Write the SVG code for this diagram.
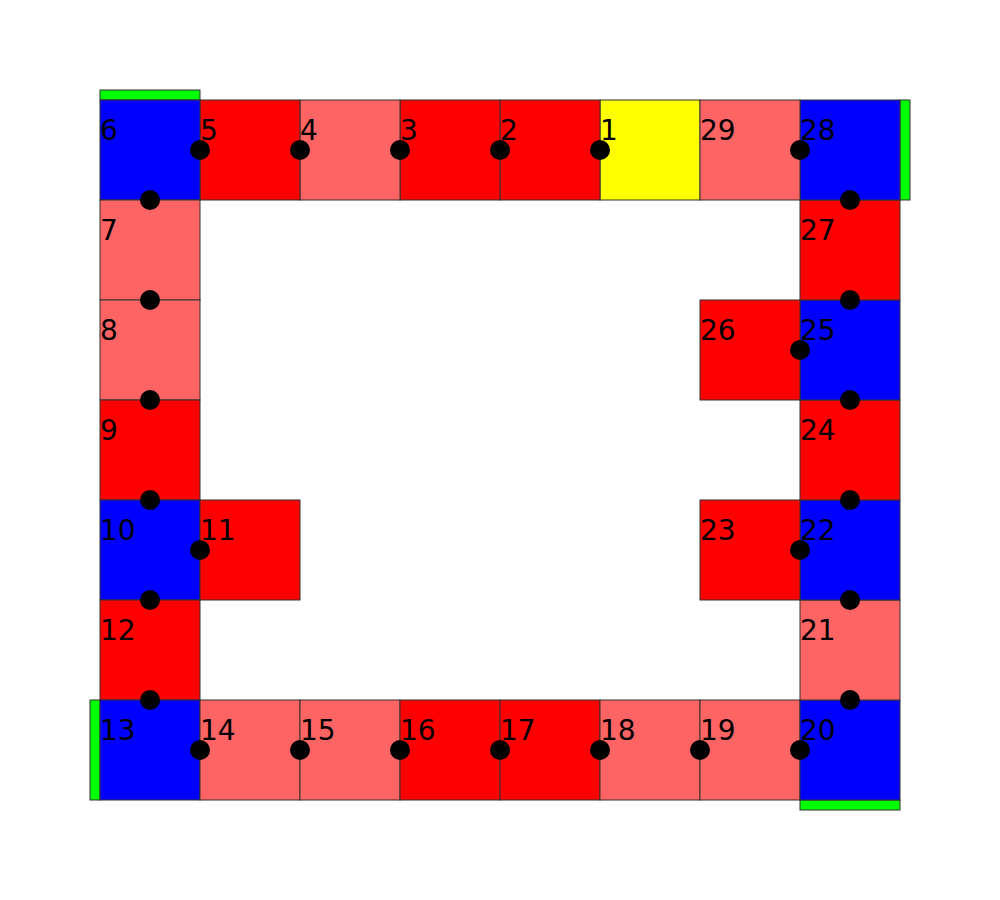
<svg xmlns="http://www.w3.org/2000/svg" width="1000" height="900" viewBox="0 0 1000 900">
<style>
rect{stroke:#333;stroke-width:1}
.b{fill:#0000ff}.r{fill:#ff0000}.l{fill:#ff6464}.y{fill:#ffff00}.g{fill:#00ff00}
text{font-family:"DejaVu Sans",sans-serif;font-size:28px;fill:#000}
circle{fill:#000}
</style>
<rect width="1000" height="900" fill="#fff" style="stroke:none"/>
<g id="bars">
<rect class="g" x="100" y="90" width="100" height="10"/>
<rect class="g" x="900" y="100" width="10" height="100"/>
<rect class="g" x="90" y="700" width="10" height="100"/>
<rect class="g" x="800" y="800" width="100" height="10"/>
</g>
<g id="n1"><rect class="y" x="600" y="100" width="100" height="100"/><text x="600" y="140">1</text></g>
<g id="n2"><rect class="r" x="500" y="100" width="100" height="100"/><text x="500" y="140">2</text></g>
<g id="n3"><rect class="r" x="400" y="100" width="100" height="100"/><text x="400" y="140">3</text></g>
<g id="n4"><rect class="l" x="300" y="100" width="100" height="100"/><text x="300" y="140">4</text></g>
<g id="n5"><rect class="r" x="200" y="100" width="100" height="100"/><text x="200" y="140">5</text></g>
<g id="n6"><rect class="b" x="100" y="100" width="100" height="100"/><text x="100" y="140">6</text></g>
<g id="n7"><rect class="l" x="100" y="200" width="100" height="100"/><text x="100" y="240">7</text></g>
<g id="n8"><rect class="l" x="100" y="300" width="100" height="100"/><text x="100" y="340">8</text></g>
<g id="n9"><rect class="r" x="100" y="400" width="100" height="100"/><text x="100" y="440">9</text></g>
<g id="n10"><rect class="b" x="100" y="500" width="100" height="100"/><text x="100" y="540">10</text></g>
<g id="n11"><rect class="r" x="200" y="500" width="100" height="100"/><text x="200" y="540">11</text></g>
<g id="n12"><rect class="r" x="100" y="600" width="100" height="100"/><text x="100" y="640">12</text></g>
<g id="n13"><rect class="b" x="100" y="700" width="100" height="100"/><text x="100" y="740">13</text></g>
<g id="n14"><rect class="l" x="200" y="700" width="100" height="100"/><text x="200" y="740">14</text></g>
<g id="n15"><rect class="l" x="300" y="700" width="100" height="100"/><text x="300" y="740">15</text></g>
<g id="n16"><rect class="r" x="400" y="700" width="100" height="100"/><text x="400" y="740">16</text></g>
<g id="n17"><rect class="r" x="500" y="700" width="100" height="100"/><text x="500" y="740">17</text></g>
<g id="n18"><rect class="l" x="600" y="700" width="100" height="100"/><text x="600" y="740">18</text></g>
<g id="n19"><rect class="l" x="700" y="700" width="100" height="100"/><text x="700" y="740">19</text></g>
<g id="n20"><rect class="b" x="800" y="700" width="100" height="100"/><text x="800" y="740">20</text></g>
<g id="n21"><rect class="l" x="800" y="600" width="100" height="100"/><text x="800" y="640">21</text></g>
<g id="n22"><rect class="b" x="800" y="500" width="100" height="100"/><text x="800" y="540">22</text></g>
<g id="n23"><rect class="r" x="700" y="500" width="100" height="100"/><text x="700" y="540">23</text></g>
<g id="n24"><rect class="r" x="800" y="400" width="100" height="100"/><text x="800" y="440">24</text></g>
<g id="n25"><rect class="b" x="800" y="300" width="100" height="100"/><text x="800" y="340">25</text></g>
<g id="n26"><rect class="r" x="700" y="300" width="100" height="100"/><text x="700" y="340">26</text></g>
<g id="n27"><rect class="r" x="800" y="200" width="100" height="100"/><text x="800" y="240">27</text></g>
<g id="n28"><rect class="b" x="800" y="100" width="100" height="100"/><text x="800" y="140">28</text></g>
<g id="n29"><rect class="l" x="700" y="100" width="100" height="100"/><text x="700" y="140">29</text></g>
<g id="connectors">
<circle cx="200" cy="150" r="10"/><circle cx="300" cy="150" r="10"/><circle cx="400" cy="150" r="10"/><circle cx="500" cy="150" r="10"/><circle cx="600" cy="150" r="10"/><circle cx="800" cy="150" r="10"/>
<circle cx="150" cy="200" r="10"/><circle cx="150" cy="300" r="10"/><circle cx="150" cy="400" r="10"/><circle cx="150" cy="500" r="10"/><circle cx="200" cy="550" r="10"/><circle cx="150" cy="600" r="10"/><circle cx="150" cy="700" r="10"/>
<circle cx="200" cy="750" r="10"/><circle cx="300" cy="750" r="10"/><circle cx="400" cy="750" r="10"/><circle cx="500" cy="750" r="10"/><circle cx="600" cy="750" r="10"/><circle cx="700" cy="750" r="10"/><circle cx="800" cy="750" r="10"/>
<circle cx="850" cy="700" r="10"/><circle cx="850" cy="600" r="10"/><circle cx="850" cy="500" r="10"/><circle cx="800" cy="550" r="10"/><circle cx="850" cy="400" r="10"/><circle cx="800" cy="350" r="10"/><circle cx="850" cy="300" r="10"/><circle cx="850" cy="200" r="10"/>
</g>
</svg>
